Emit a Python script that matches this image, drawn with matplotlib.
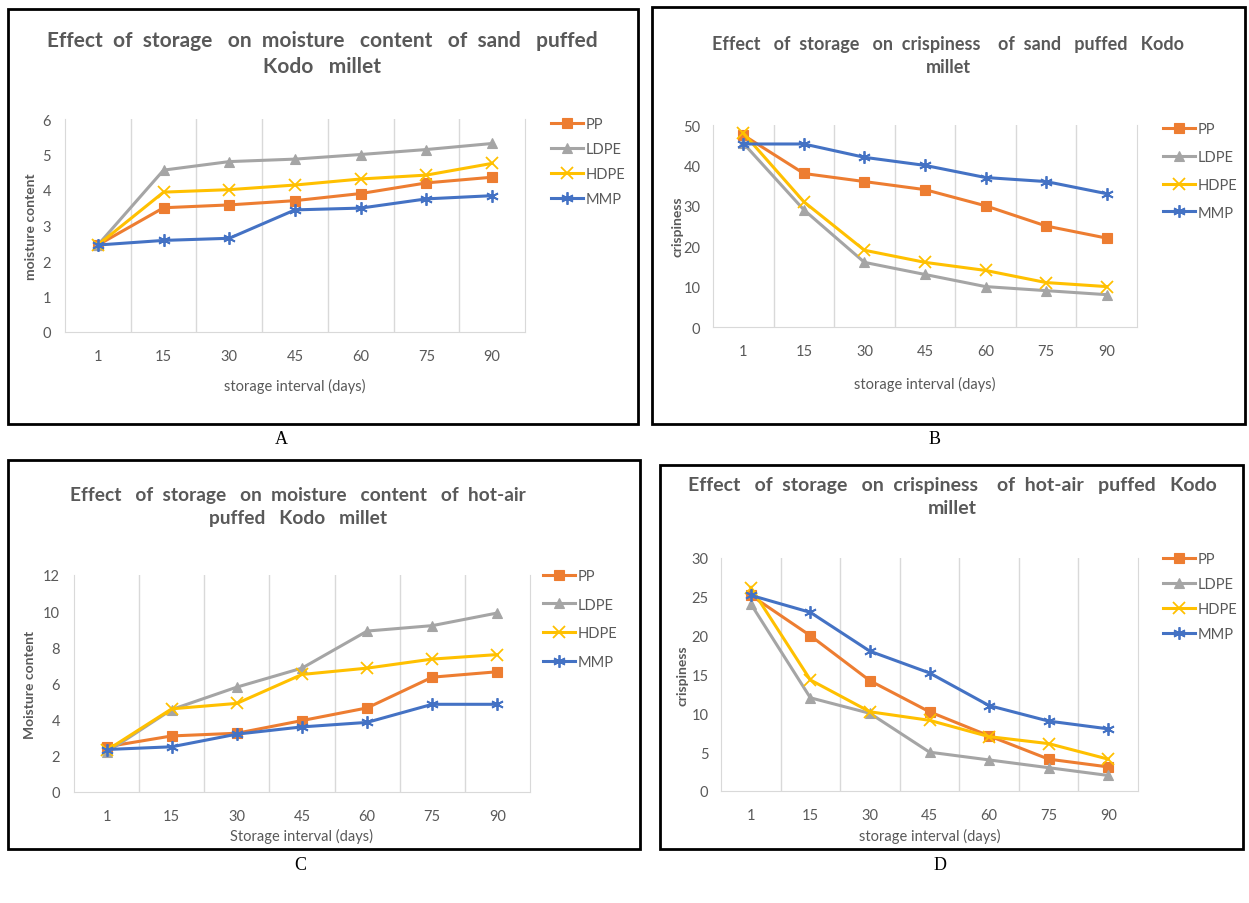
import numpy as np
import matplotlib
matplotlib.use("Agg")
import matplotlib.pyplot as plt
from matplotlib.patches import Rectangle

# ---- DATA ----
days = ["1", "15", "30", "45", "60", "75", "90"]
series_names = ["PP", "LDPE", "HDPE", "MMP"]

# A: moisture content, sand puffed
sand_moist_pp = [2.45, 3.5, 3.58, 3.7, 3.9, 4.2, 4.36]
sand_moist_ldpe = [2.45, 4.56, 4.8, 4.87, 5.0, 5.14, 5.31]
sand_moist_hdpe = [2.45, 3.94, 4.01, 4.14, 4.31, 4.42, 4.75]
sand_moist_mmp = [2.45, 2.58, 2.64, 3.44, 3.49, 3.75, 3.84]

# B: crispiness, sand puffed
sand_crisp_pp = [47.5, 38, 36, 34, 30, 25, 22]
sand_crisp_ldpe = [45.5, 29, 16, 13, 10, 9, 8]
sand_crisp_hdpe = [48, 31, 19, 16, 14, 11, 10]
sand_crisp_mmp = [45.3, 45.3, 42, 40, 37, 36, 33]

# C: moisture content, hot-air puffed
hot_moist_pp = [2.5, 3.1, 3.25, 3.95, 4.65, 6.35, 6.65]
hot_moist_ldpe = [2.2, 4.56, 5.8, 6.85, 8.9, 9.2, 9.9]
hot_moist_hdpe = [2.3, 4.6, 4.9, 6.5, 6.85, 7.35, 7.6]
hot_moist_mmp = [2.35, 2.5, 3.2, 3.6, 3.85, 4.85, 4.85]

# D: crispiness, hot-air puffed
hot_crisp_pp = [25.2, 20, 14.2, 10.2, 7.1, 4.1, 3.1]
hot_crisp_ldpe = [24.1, 12, 10, 5, 4, 3, 2]
hot_crisp_hdpe = [26.2, 14.3, 10.2, 9.1, 7, 6.1, 4.1]
hot_crisp_mmp = [25.2, 23, 18, 15.2, 11, 9, 8]

COLORS = ["#ED7D31", "#A5A5A5", "#FFC000", "#4472C4"]
MARKERS = ["s", "^", "x", (6, 2, 0)]
TEXT_GRAY = "#595959"
GRID_GRAY = "#D9D9D9"
FONT = "Lato"

W, H = 1249, 904
fig = plt.figure(figsize=(W / 100, H / 100), dpi=100)
fig.patch.set_facecolor("white")


def fx(x):
    return x / W


def fy(y):
    return 1 - y / H


def add_frame(left, top, right, bottom):
    fig.patches.append(Rectangle((fx(left), fy(bottom)), fx(right - left), (bottom - top) / H,
                                 transform=fig.transFigure, fill=False, edgecolor="black",
                                 linewidth=2.0, zorder=0))


def draw_panel(box, plot_px, title, title_xy, title_size, series, ymax, ystep, ylabel,
               ylabel_x, ypad, xlabel, xlabel_y, legend_xy, leg_space, letter_xy, letter):
    add_frame(*box)
    left, top, right, bottom = plot_px
    ax = fig.add_axes([fx(left), fy(bottom), fx(right - left), (bottom - top) / H])
    x = np.arange(len(days))
    for vals, name, c, m in zip(series, series_names, COLORS, MARKERS):
        filled = m in ("s", "^")
        ax.plot(x, vals, color=c, marker=m, markersize=7 if filled else 9, linewidth=2.2,
                label=name, markeredgewidth=0.8 if filled else 1.3)
    ax.set_xlim(-0.5, len(days) - 0.5)
    ax.set_ylim(0, ymax)
    ax.set_yticks(np.arange(0, ymax + 0.01, ystep))
    ax.set_xticks(x)
    ax.set_xticklabels(days)
    ax.set_xticks(np.arange(0.5, len(days) - 0.5, 1), minor=True)
    ax.grid(which="minor", axis="x", color=GRID_GRAY, linewidth=1.0)
    ax.tick_params(which="both", length=0, labelsize=10.5, labelcolor=TEXT_GRAY)
    ax.tick_params(axis="x", pad=12)
    ax.tick_params(axis="y", pad=ypad)
    for lab in ax.get_xticklabels() + ax.get_yticklabels():
        lab.set_fontfamily(FONT)
    ax.spines["top"].set_visible(False)
    for s in ["left", "bottom", "right"]:
        ax.spines[s].set_color(GRID_GRAY)
    # title
    fig.text(fx(title_xy[0]), fy(title_xy[1]), title, ha="center", va="center",
             fontsize=title_size, fontweight="bold", color=TEXT_GRAY, family=FONT,
             linespacing=1.4)
    # axis labels
    fig.text(fx(ylabel_x), fy((top + bottom) / 2), ylabel, rotation=90, ha="center",
             va="center", fontsize=10, fontweight="bold", color=TEXT_GRAY, family=FONT)
    fig.text(fx((left + right) / 2), fy(xlabel_y), xlabel, ha="center", va="center",
             fontsize=10.5, color=TEXT_GRAY, family=FONT)
    # legend
    fig.legend(*ax.get_legend_handles_labels(), loc="upper left",
               bbox_to_anchor=(fx(legend_xy[0]), fy(legend_xy[1])), frameon=False,
               prop={"family": FONT, "size": 10.5}, labelcolor=TEXT_GRAY,
               handlelength=2.2, handletextpad=0.2, labelspacing=leg_space,
               borderaxespad=0, borderpad=0)
    # panel letter
    fig.text(fx(letter_xy[0]), fy(letter_xy[1]), letter, ha="center", va="center",
             fontsize=13, family="Liberation Serif", color="black")
    return ax


draw_panel((8, 10, 638, 425), (65, 120, 525, 333),
           "Effect  of  storage   on  moisture   content   of  sand   puffed\nKodo   millet",
           (322, 54), 15,
           [sand_moist_pp, sand_moist_ldpe, sand_moist_hdpe, sand_moist_mmp],
           6, 1, "moisture content", 31, 10, "storage interval (days)", 386,
           (551, 118), 0.75, (281, 440), "A")

draw_panel((652, 8, 1245, 425), (713, 126, 1137, 328),
           "Effect   of  storage   on  crispiness    of  sand   puffed   Kodo\nmillet",
           (948, 56), 13,
           [sand_crisp_pp, sand_crisp_ldpe, sand_crisp_hdpe, sand_crisp_mmp],
           50, 10, "crispiness", 677, 9, "storage interval (days)", 384,
           (1163, 123), 0.95, (935, 440), "B")

draw_panel((8, 461, 640, 850), (74, 576, 530, 793),
           "Effect   of  storage   on  moisture   content   of  hot-air\npuffed   Kodo   millet",
           (298, 507), 13.8,
           [hot_moist_pp, hot_moist_ldpe, hot_moist_hdpe, hot_moist_mmp],
           12, 2, "Moisture content", 30, 10, "Storage interval (days)", 836,
           (543, 570), 1.0, (300, 866), "C")

draw_panel((660, 466, 1243, 850), (721, 559, 1138, 792),
           "Effect   of  storage   on  crispiness    of  hot-air   puffed   Kodo\nmillet",
           (952, 497), 14,
           [hot_crisp_pp, hot_crisp_ldpe, hot_crisp_hdpe, hot_crisp_mmp],
           30, 5, "crispiness", 682, 9, "storage interval (days)", 836,
           (1163, 553), 0.75, (940, 866), "D")

fig.savefig("out.png", dpi=100, facecolor="white")
